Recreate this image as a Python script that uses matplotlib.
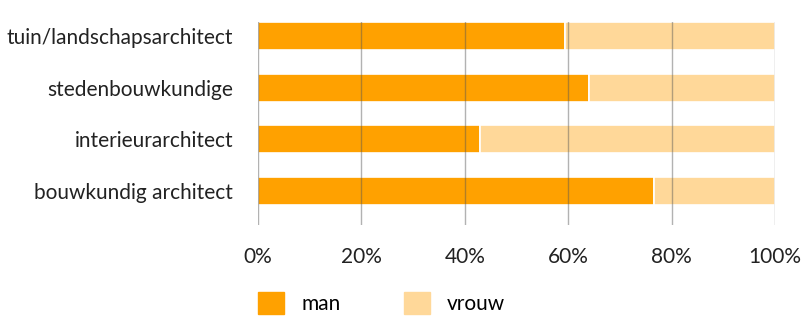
import numpy as np
import matplotlib.pyplot as plt
from matplotlib.patches import Patch

plt.rcParams['font.family'] = ['Lato', 'DejaVu Sans']

categories = ['bouwkundig architect', 'interieurarchitect',
              'stedenbouwkundige', 'tuin/landschapsarchitect']
man = [76.5, 42.9, 64.1, 59.4]
vrouw = [100 - m for m in man]
ticks = [0, 20, 40, 60, 80, 100]

c_man = '#FFA100'
c_vrouw = '#FFD899'
fs = 15

fig = plt.figure(figsize=(8.01, 3.16), dpi=100)
ax = fig.add_axes([258 / 801, 1 - 225 / 316, (775 - 258) / 801, (225 - 22) / 316])

ind = np.arange(len(categories))
ax.barh(ind, man, 0.54, color=c_man, edgecolor='white', linewidth=1.2, zorder=1)
ax.barh(ind, vrouw, 0.54, left=man, color=c_vrouw, edgecolor='white',
        linewidth=1.2, zorder=1)

ax.set_xlim(0, 100)
ax.set_ylim(-0.66, 3.27)
ax.set_yticks(ind)
ax.set_yticklabels(categories, fontsize=fs, color='#222222')
ax.set_xticks(ticks)
ax.set_xticklabels(['{}%'.format(t) for t in ticks], fontsize=fs, color='#222222')
ax.tick_params(length=0)
ax.tick_params(axis='y', pad=18)
ax.tick_params(axis='x', pad=16)
for t in ticks:
    ax.axvline(t, color='#555555', alpha=0.45, linewidth=1, zorder=3)
for s in ax.spines.values():
    s.set_visible(False)

handles = [Patch(color=c_man, label='man'), Patch(color=c_vrouw, label='vrouw')]
fig.legend(handles=handles, loc='lower left', bbox_to_anchor=(258 / 801, 2 / 316),
           ncol=2, frameon=False, fontsize=fs, borderpad=0, borderaxespad=0,
           handlelength=1.25, handleheight=1.25, handletextpad=0.85,
           columnspacing=3.0)

fig.savefig('out.png', dpi=100)
